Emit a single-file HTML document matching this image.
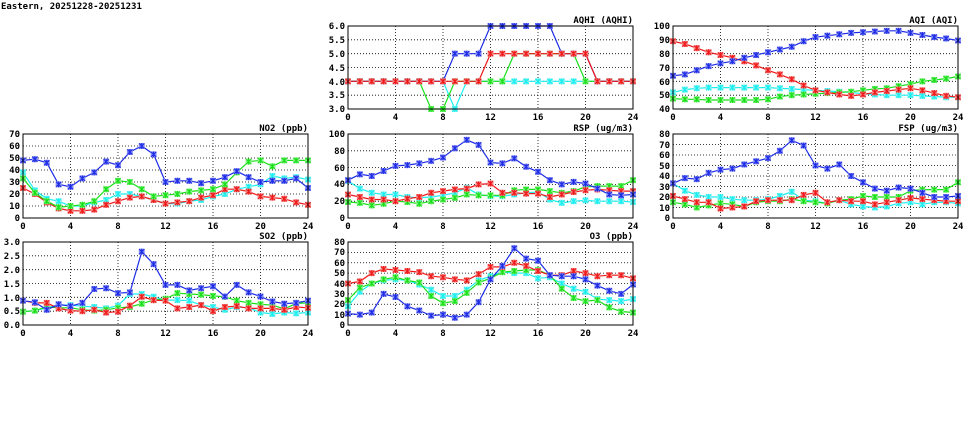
<!DOCTYPE html>
<html><head><meta charset="utf-8"><style>
body{margin:0;background:#fff;width:975px;height:447px;overflow:hidden}
svg{display:block}
text{font-family:"DejaVu Sans Mono","Liberation Mono",monospace;font-size:9px;font-weight:bold;fill:#000}
.yl{text-anchor:end}.xl{text-anchor:middle}.tt{text-anchor:end}
</style></head><body>
<svg id="s" width="975" height="447" xmlns="http://www.w3.org/2000/svg">
<text x="1" y="9">Eastern, 20251228-20251231</text>
<!-- AQHI -->
<g transform="translate(348,26)">
<text class="tt" x="285" y="-3">AQHI (AQHI)</text>
<text class="yl" x="-3" y="3">6.0</text><text class="yl" x="-3" y="17">5.5</text><text class="yl" x="-3" y="31">5.0</text><text class="yl" x="-3" y="45">4.5</text><text class="yl" x="-3" y="59">4.0</text><text class="yl" x="-3" y="72">3.5</text><text class="yl" x="-3" y="86">3.0</text>
<text class="xl" x="0" y="94">0</text><text class="xl" x="47.5" y="94">4</text><text class="xl" x="95" y="94">8</text><text class="xl" x="142.5" y="94">12</text><text class="xl" x="190" y="94">16</text><text class="xl" x="237.5" y="94">20</text><text class="xl" x="285" y="94">24</text>
</g>
<!-- AQI -->
<g transform="translate(673,26)">
<text class="tt" x="285" y="-3">AQI (AQI)</text>
<text class="yl" x="-3" y="3">100</text><text class="yl" x="-3" y="17">90</text><text class="yl" x="-3" y="31">80</text><text class="yl" x="-3" y="45">70</text><text class="yl" x="-3" y="59">60</text><text class="yl" x="-3" y="72">50</text><text class="yl" x="-3" y="86">40</text>
<text class="xl" x="0" y="94">0</text><text class="xl" x="47.5" y="94">4</text><text class="xl" x="95" y="94">8</text><text class="xl" x="142.5" y="94">12</text><text class="xl" x="190" y="94">16</text><text class="xl" x="237.5" y="94">20</text><text class="xl" x="285" y="94">24</text>
</g>
<!-- NO2 -->
<g transform="translate(23,134)">
<text class="tt" x="285" y="-3">NO2 (ppb)</text>
<text class="yl" x="-3" y="3">70</text><text class="yl" x="-3" y="15">60</text><text class="yl" x="-3" y="27">50</text><text class="yl" x="-3" y="39">40</text><text class="yl" x="-3" y="51">30</text><text class="yl" x="-3" y="63">20</text><text class="yl" x="-3" y="75">10</text><text class="yl" x="-3" y="87">0</text>
<text class="xl" x="0" y="95">0</text><text class="xl" x="47.5" y="95">4</text><text class="xl" x="95" y="95">8</text><text class="xl" x="142.5" y="95">12</text><text class="xl" x="190" y="95">16</text><text class="xl" x="237.5" y="95">20</text><text class="xl" x="285" y="95">24</text>
</g>
<!-- RSP -->
<g transform="translate(348,134)">
<text class="tt" x="285" y="-3">RSP (ug/m3)</text>
<text class="yl" x="-3" y="3">100</text><text class="yl" x="-3" y="20">80</text><text class="yl" x="-3" y="37">60</text><text class="yl" x="-3" y="53">40</text><text class="yl" x="-3" y="70">20</text><text class="yl" x="-3" y="87">0</text>
<text class="xl" x="0" y="95">0</text><text class="xl" x="47.5" y="95">4</text><text class="xl" x="95" y="95">8</text><text class="xl" x="142.5" y="95">12</text><text class="xl" x="190" y="95">16</text><text class="xl" x="237.5" y="95">20</text><text class="xl" x="285" y="95">24</text>
</g>
<!-- FSP -->
<g transform="translate(673,134)">
<text class="tt" x="285" y="-3">FSP (ug/m3)</text>
<text class="yl" x="-3" y="3">80</text><text class="yl" x="-3" y="14">70</text><text class="yl" x="-3" y="24">60</text><text class="yl" x="-3" y="35">50</text><text class="yl" x="-3" y="45">40</text><text class="yl" x="-3" y="56">30</text><text class="yl" x="-3" y="66">20</text><text class="yl" x="-3" y="77">10</text><text class="yl" x="-3" y="87">0</text>
<text class="xl" x="0" y="95">0</text><text class="xl" x="47.5" y="95">4</text><text class="xl" x="95" y="95">8</text><text class="xl" x="142.5" y="95">12</text><text class="xl" x="190" y="95">16</text><text class="xl" x="237.5" y="95">20</text><text class="xl" x="285" y="95">24</text>
</g>
<!-- SO2 -->
<g transform="translate(23,242)">
<text class="tt" x="285" y="-3">SO2 (ppb)</text>
<text class="yl" x="-3" y="3">3.0</text><text class="yl" x="-3" y="17">2.5</text><text class="yl" x="-3" y="31">2.0</text><text class="yl" x="-3" y="45">1.5</text><text class="yl" x="-3" y="59">1.0</text><text class="yl" x="-3" y="72">0.5</text><text class="yl" x="-3" y="86">0.0</text>
<text class="xl" x="0" y="94">0</text><text class="xl" x="47.5" y="94">4</text><text class="xl" x="95" y="94">8</text><text class="xl" x="142.5" y="94">12</text><text class="xl" x="190" y="94">16</text><text class="xl" x="237.5" y="94">20</text><text class="xl" x="285" y="94">24</text>
</g>
<!-- O3 -->
<g transform="translate(348,242)">
<text class="tt" x="285" y="-3">O3 (ppb)</text>
<text class="yl" x="-3" y="3">80</text><text class="yl" x="-3" y="13">70</text><text class="yl" x="-3" y="24">60</text><text class="yl" x="-3" y="34">50</text><text class="yl" x="-3" y="45">40</text><text class="yl" x="-3" y="55">30</text><text class="yl" x="-3" y="65">20</text><text class="yl" x="-3" y="76">10</text><text class="yl" x="-3" y="86">0</text>
<text class="xl" x="0" y="94">0</text><text class="xl" x="47.5" y="94">4</text><text class="xl" x="95" y="94">8</text><text class="xl" x="142.5" y="94">12</text><text class="xl" x="190" y="94">16</text><text class="xl" x="237.5" y="94">20</text><text class="xl" x="285" y="94">24</text>
</g>
</svg>
<script>
var NS="http://www.w3.org/2000/svg",S=document.getElementById("s");
function el(t,a,p){var e=document.createElementNS(NS,t);for(var k in a)e.setAttribute(k,a[k]);(p||S).appendChild(e);return e;}
var C={b:"#1c2be6",r:"#f01818",g:"#18e018",c:"#18f0f0"};
var L={b:"#8a90f0",r:"#f08a8a",g:"#8af08a",c:"#8af0f0"};
function panel(x0,y0,h,min,max,step,series){
  var w=285,g=el("g",{transform:"translate("+x0+","+y0+")"});
  for(var i=1;i<6;i++){var x=i*w/6;el("line",{x1:x,y1:0,x2:x,y2:h,stroke:"#000","stroke-width":0.8,"stroke-dasharray":"1,2"},g);}
  for(var v=min+step;v<max-1e-9;v+=step){var y=h-(v-min)/(max-min)*h;el("line",{x1:0,y1:y,x2:w,y2:y,stroke:"#000","stroke-width":0.8,"stroke-dasharray":"1,2"},g);}
  series.forEach(function(s){
    var k=s[0],d=s[1],pts=d.map(function(v,i){return [i*w/24,h-(v-min)/(max-min)*h];});
    el("polyline",{points:pts.map(function(p){return p[0].toFixed(1)+","+p[1].toFixed(1)}).join(" "),fill:"none",stroke:C[k],"stroke-width":1.2},g);
    pts.forEach(function(p){
      el("rect",{x:p[0]-3,y:p[1]-3,width:6,height:6,fill:L[k]},g);
      el("path",{d:"M"+(p[0]-2.5)+","+(p[1]-2.5)+"l5,5m0,-5l-5,5M"+p[0]+","+(p[1]-3)+"v6",stroke:C[k],"stroke-width":1.1},g);
    });
  });
  el("rect",{x:0,y:0,width:w,height:h,fill:"none",stroke:"#000","stroke-width":1},g);
}
function rep(v,n){var a=[];for(var i=0;i<n;i++)a.push(v);return a;}
panel(348,26,83,3,6,0.5,[
 ["c",[4,4,4,4,4,4,4,4,4,3,4,4,4,4,4,4,4,4,4,4,4,4,4,4,4]],
 ["g",[4,4,4,4,4,4,4,3,3,4,4,4,4,4,5,5,5,5,5,5,4,4,4,4,4]],
 ["b",[4,4,4,4,4,4,4,4,4,5,5,5,6,6,6,6,6,6,5,5,5,4,4,4,4]],
 ["r",[4,4,4,4,4,4,4,4,4,4,4,4,5,5,5,5,5,5,5,5,5,4,4,4,4]]]);
panel(673,26,83,40,100,10,[
 ["c",[52,54,55,55.5,55.5,55.5,55.5,55.5,55.5,55,54.5,54,53.5,53,52.5,52,51,50.5,50,50,50,49.5,49,48.5,48.5]],
 ["g",[47.5,47,47,46.5,46.5,46.5,46.5,46.5,47,49,50,50.5,51,51.5,52,52.5,53.5,54.5,55,56.5,58,60,61,62,63.5]],
 ["r",[89,87,84,81,79,77,74.5,71.5,68,65,61.5,57,53.5,52,50.5,49.5,50.5,52,53,54,55,53.5,51.5,49.5,48.5]],
 ["b",[64,65,68,71,73,74.5,77,79,81,83,85,89,92,93,94,95,95.5,96,96.5,96.5,95,93.5,92,91,89.5]]]);
panel(23,134,84,0,70,10,[
 ["c",[38,23,16,14,10,10,13,15,20,20,18,15,12,12,14,15,18,20,24,26,28,35,33,34,32]],
 ["r",[25,20,13,8,6,6,7,11,14,17,18,15,12,13,14,17,19,24,24,22,18,17,16,13,11]],
 ["g",[33,21,14,9,10,11,14,24,31,30,24,18,19,20,22,23,24,28,38,47,48,43,48,48,48]],
 ["b",[48,49,46,28,26,33,38,47,44,55,60,53,30,31,31,29,31,34,39,34,30,31,31,33,25]]]);
panel(348,134,84,0,100,20,[
 ["c",[44,35,30,28,28,25,24,25,27,30,36,28,26,26,28,30,31,22,18,20,21,20,20,20,19]],
 ["g",[19,18,15,17,20,19,17,20,22,24,28,27,27,27,33,34,34,32,30,32,37,38,38,38,45]],
 ["r",[28,25,22,22,20,23,25,30,32,34,35,40,41,30,30,29,29,25,28,31,33,34,33,32,32]],
 ["b",[45,52,50,56,62,63,65,68,72,83,93,87,66,65,71,61,55,45,40,43,41,35,28,27,28]]]);
panel(673,134,84,0,80,10,[
 ["c",[33,26,22,20,20,18,17,17,18,21,25,17,16,14,17,13,11,10,11,14,15,13,15,15,14]],
 ["g",[15,13,10,12,14,13,11,15,16,16,18,16,15,14,17,18,21,20,20,20,26,27,27,27,34]],
 ["r",[21,18,15,15,9,10,11,16,17,17,17,22,24,15,17,16,16,13,15,17,19,18,17,16,16]],
 ["b",[33,38,37,43,46,47,51,54,57,64,74,69,50,47,51,40,34,28,26,29,28,24,20,20,21]]]);
panel(23,242,83,0,3,0.5,[
 ["c",[.48,.52,.62,.72,.72,.68,.65,.6,.7,1.12,1.12,1.02,.9,.9,.88,.72,.65,.55,.65,.62,.45,.4,.45,.42,.45]],
 ["g",[.48,.52,.65,.62,.62,.55,.52,.55,.62,.65,.77,.9,.95,1.15,1.12,1.1,1.05,1.02,.88,.8,.75,.72,.58,.78,.8]],
 ["r",[.88,.8,.8,.6,.52,.5,.55,.45,.48,.7,1.02,.9,.88,.6,.65,.72,.5,.65,.68,.6,.6,.6,.55,.65,.62]],
 ["b",[.88,.82,.55,.75,.68,.8,1.3,1.33,1.15,1.18,2.65,2.2,1.45,1.45,1.25,1.33,1.4,1.03,1.45,1.18,1.03,.85,.77,.8,.88]]]);
panel(348,242,83,0,80,10,[
 ["c",[18,32,40,43,44,43,39,34,28,28,34,43,47,51,50,50,45,46,40,35,32,25,24,23,25]],
 ["g",[24,36,40,44,46,43,41,28,21,23,31,41,45,51,52,53,53,48,35,26,23,24,17,13,12]],
 ["r",[40,42,50,54,53,52,51,47,46,44,43,49,56,56,60,57,52,48,48,52,50,47,48,48,45]],
 ["b",[11,10,12,30,27,18,14,9,10,7,10,22,44,57,74,64,62,48,47,47,44,38,33,30,39]]]);
</script>
</body></html>
